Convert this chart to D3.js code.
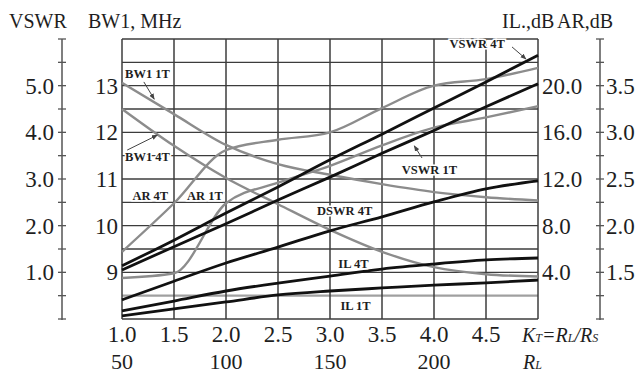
<!DOCTYPE html>
<html>
<head>
<meta charset="utf-8">
<script src="https://cdn.jsdelivr.net/npm/d3@7"></script>
<style>
body { margin: 0; background: #fff; }
text { font-family: "Liberation Serif", "Times New Roman", serif; fill: #1e1e1e; }
</style>
</head>
<body>
<div id="chart"></div>
<script>
// data
var kt = [1.0, 1.5, 2.0, 2.5, 3.0, 3.5, 4.0, 4.5, 5.0]
var rlTicks = [50, 100, 150, 200]
var vswrTicks = [1, 2, 3, 4, 5]
var bwTicks = [9, 10, 11, 12, 13]
var ilTicks = [4, 8, 12, 16, 20]
var arTicks = [1.5, 2.0, 2.5, 3.0, 3.5]

var vswr4T = [1.14, 1.69, 2.27, 2.83, 3.41, 3.96, 4.52, 5.08, 5.65]
var vswr1T = [1.05, 1.55, 2.04, 2.55, 3.04, 3.55, 4.04, 4.55, 5.04]
var dswr4T = [0.41, 0.81, 1.20, 1.54, 1.89, 2.19, 2.51, 2.79, 2.96]
var il4T = [0.69, 1.54, 2.40, 3.08, 3.68, 4.28, 4.71, 5.06, 5.23]
var il1T = [0.26, 0.86, 1.46, 2.06, 2.40, 2.66, 2.91, 3.09, 3.34]
var bw1T = [13.06, 12.39, 11.73, 11.32, 11.09, 10.89, 10.72, 10.61, 10.54]
var bw4T = [12.50, 11.71, 11.02, 10.46, 9.91, 9.44, 9.11, 8.96, 8.91]
var ar4T = [1.72, 2.24, 2.81, 2.92, 3.00, 3.26, 3.50, 3.57, 3.69]
var ar1T = [1.44, 1.49, 2.24, 2.46, 2.64, 2.86, 3.05, 3.16, 3.28]

var width = 639, height = 376
var margin = { top: 39, left: 122, right: 538, bottom: 319 }

var svg = d3.select('#chart').append('svg')
  .attr('width', width).attr('height', height)

svg.append('rect').attr('width', width).attr('height', height).attr('fill', '#fff')

var x = d3.scaleLinear().domain([1, 5]).range([margin.left, margin.right])
var xRL = d3.scaleLinear().domain([50, 250]).range([margin.left, margin.right])
var yV = d3.scaleLinear().domain([0, 6]).range([margin.bottom, margin.top])
var yBW = d3.scaleLinear().domain([8, 14]).range([margin.bottom, margin.top])
var yIL = d3.scaleLinear().domain([0, 24]).range([margin.bottom, margin.top])
var yAR = d3.scaleLinear().domain([1, 4]).range([margin.bottom, margin.top])

var gridVals = d3.range(0, 6.01, 0.5)

// grid
svg.append('g').selectAll('line')
  .data(gridVals).enter().append('line')
  .attr('x1', margin.left).attr('x2', margin.right)
  .attr('y1', d => yV(d)).attr('y2', d => yV(d))
  .attr('stroke', d => d === 0.5 ? '#a0a0a0' : '#3c3c3c')
  .attr('stroke-width', d => d === 0.5 ? 2.2 : 1.4)

svg.append('g').selectAll('line')
  .data(kt).enter().append('line')
  .attr('x1', d => x(d)).attr('x2', d => x(d))
  .attr('y1', margin.top).attr('y2', margin.bottom)
  .attr('stroke', '#3c3c3c')
  .attr('stroke-width', 1.5)

// curves
var line = function(vals, scale) {
  return d3.line()
    .x((d, i) => x(kt[i]))
    .y(d => scale(d))
    .curve(d3.curveMonotoneX)(vals)
}

var grayCurves = [[bw1T, yBW], [bw4T, yBW], [ar4T, yAR], [ar1T, yAR]]
var blackCurves = [[vswr4T, yV], [vswr1T, yV], [dswr4T, yV], [il4T, yIL], [il1T, yIL]]

svg.append('g').selectAll('path')
  .data(grayCurves).enter().append('path')
  .attr('d', d => line(d[0], d[1]))
  .attr('fill', 'none').attr('stroke', '#8c8c8c').attr('stroke-width', 2.4)

svg.append('g').selectAll('path')
  .data(blackCurves).enter().append('path')
  .attr('d', d => line(d[0], d[1]))
  .attr('fill', 'none').attr('stroke', '#111').attr('stroke-width', 2.8)

// left VSWR axis
var axL = 62, axR = 600
svg.append('line').attr('x1', axL).attr('x2', axL)
  .attr('y1', margin.top).attr('y2', margin.bottom + 1).attr('stroke', '#555').attr('stroke-width', 1.5)
svg.append('g').selectAll('line')
  .data(gridVals).enter().append('line')
  .attr('x1', axL - 4).attr('x2', axL + 4)
  .attr('y1', d => yV(d)).attr('y2', d => yV(d))
  .attr('stroke', '#555').attr('stroke-width', 1.3)

// right AR axis
svg.append('line').attr('x1', axR).attr('x2', axR)
  .attr('y1', margin.top).attr('y2', margin.bottom + 1).attr('stroke', '#555').attr('stroke-width', 1.5)
svg.append('g').selectAll('line')
  .data(gridVals).enter().append('line')
  .attr('x1', axR - 4).attr('x2', axR + 4)
  .attr('y1', d => yV(d)).attr('y2', d => yV(d))
  .attr('stroke', '#555').attr('stroke-width', 1.3)

var f1 = d3.format('.1f')
var tickSize = 23

svg.append('g').selectAll('text')
  .data(vswrTicks).enter().append('text')
  .attr('x', 54).attr('y', d => yV(d) + 8)
  .attr('text-anchor', 'end').attr('font-size', tickSize)
  .text(f1)

svg.append('g').selectAll('text')
  .data(bwTicks).enter().append('text')
  .attr('x', 118).attr('y', d => yBW(d) + 8)
  .attr('text-anchor', 'end').attr('font-size', tickSize)
  .text(d => d)

svg.append('g').selectAll('text')
  .data(ilTicks).enter().append('text')
  .attr('x', 542).attr('y', d => yIL(d) + 8)
  .attr('font-size', tickSize)
  .text(f1)

svg.append('g').selectAll('text')
  .data(arTicks).enter().append('text')
  .attr('x', 606).attr('y', d => yAR(d) + 8)
  .attr('font-size', tickSize)
  .text(f1)

svg.append('g').selectAll('text')
  .data(kt.slice(0, 8)).enter().append('text')
  .attr('x', d => x(d)).attr('y', 342)
  .attr('text-anchor', 'middle').attr('font-size', tickSize)
  .text(f1)

svg.append('g').selectAll('text')
  .data(rlTicks).enter().append('text')
  .attr('x', d => xRL(d)).attr('y', 369)
  .attr('text-anchor', 'middle').attr('font-size', 22)
  .text(d => d)

// axis titles
svg.append('text').attr('x', 9).attr('y', 28).attr('font-size', 20).text('VSWR')
svg.append('text').attr('x', 88).attr('y', 28).attr('font-size', 20).text('BW1, MHz')
svg.append('text').attr('x', 502).attr('y', 28).attr('font-size', 20).text('IL.,dB')
svg.append('text').attr('x', 557).attr('y', 28).attr('font-size', 20).text('AR,dB')

var ktTitle = svg.append('text').attr('x', 522).attr('y', 342)
  .attr('font-size', 20).attr('font-style', 'italic')
ktTitle.append('tspan').text('K')
ktTitle.append('tspan').attr('font-size', 12).text('T')
ktTitle.append('tspan').text('=R')
ktTitle.append('tspan').attr('font-size', 12).text('L')
ktTitle.append('tspan').text('/R')
ktTitle.append('tspan').attr('font-size', 12).text('S')

var rlTitle = svg.append('text').attr('x', 523).attr('y', 369)
  .attr('font-size', 20).attr('font-style', 'italic')
rlTitle.append('tspan').text('R')
rlTitle.append('tspan').attr('font-size', 12).text('L')

// curve labels (kt, vswr-scale position)
var labelText = ['BW1 1T', 'BW1 4T', 'AR 4T', 'AR 1T', 'DSWR 4T', 'IL 4T', 'IL 1T', 'VSWR 1T', 'VSWR 4T']
var labelKt = [1.03, 1.03, 1.10, 1.625, 2.875, 3.08, 3.10, 3.69, 4.15]
var labelV = [5.16, 3.39, 2.55, 2.55, 2.23, 1.09, 0.19, 3.11, 5.81]

svg.append('g').selectAll('text')
  .data(labelText).enter().append('text')
  .attr('x', (d, i) => x(labelKt[i])).attr('y', (d, i) => yV(labelV[i]))
  .attr('font-size', 12.5).attr('font-weight', 'bold')
  .attr('stroke', '#fff').attr('stroke-width', 3).attr('paint-order', 'stroke')
  .text(d => d)

// label arrows
svg.append('defs').append('marker')
  .attr('id', 'ah').attr('viewBox', '0 0 10 10')
  .attr('refX', 9).attr('refY', 5)
  .attr('markerWidth', 6).attr('markerHeight', 6)
  .attr('orient', 'auto')
  .append('path').attr('d', 'M0,1L10,5L0,9z').attr('fill', '#444')

var arrows = [
  [1.21, 5.08, 1.31, 4.71],
  [1.05, 3.62, 1.34, 3.94],
  [3.885, 3.45, 3.81, 3.71],
  [4.75, 5.83, 4.885, 5.57]
]
svg.append('g').selectAll('line')
  .data(arrows).enter().append('line')
  .attr('x1', d => x(d[0])).attr('y1', d => yV(d[1]))
  .attr('x2', d => x(d[2])).attr('y2', d => yV(d[3]))
  .attr('stroke', '#444').attr('stroke-width', 1)
  .attr('marker-end', 'url(#ah)')
</script>
</body>
</html>
